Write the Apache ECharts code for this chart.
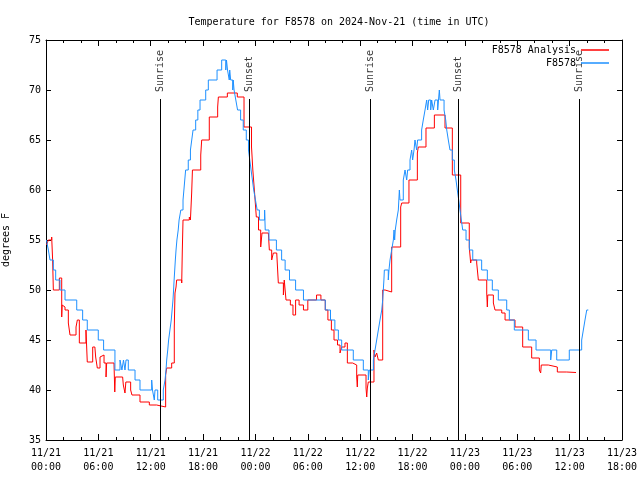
<!DOCTYPE html>
<html>
<head>
<meta charset="utf-8">
<script src="https://cdn.jsdelivr.net/npm/echarts@6/dist/echarts.min.js"></script>
<style>html,body{margin:0;padding:0;background:#fff}#c{width:640px;height:480px}</style>
</head>
<body>
<div id="c"></div>
<script>
// Hours since 2024-11-21 00:00 UTC
const titleText = 'Temperature for F8578 on 2024-Nov-21 (time in UTC)';
const yTicks = [35, 40, 45, 50, 55, 60, 65, 70, 75];
const xTickHours = [0, 6, 12, 18, 24, 30, 36, 42, 48, 54, 60, 66];

const sunHours = [13.14, 23.3, 37.16, 47.25, 61.1];
const sunLabels = ['Sunrise', 'Sunset', 'Sunrise', 'Sunset', 'Sunrise'];

const obsHours = [0.05,0.27,0.46,0.84,1.11,1.6,2.18,3.52,4.2,4.73,5.99,6.6,7.9,8.48,8.7,8.88,9.05,9.17,9.43,10.2,10.77,
  12.11,12.2,12.41,12.49,12.8,13.44,13.64,13.75,13.83,13.95,14.05,14.2,14.35,14.45,14.55,14.62,14.68,14.75,14.82,14.9,15.0,
  15.15,15.25,15.45,15.7,15.8,15.9,16.0,16.3,16.55,16.7,16.85,17.15,17.4,17.65,18.3,18.6,19.6,20.13,20.6,20.68,20.8,21.0,
  21.05,21.16,21.4,21.45,21.55,21.75,21.95,22.3,22.6,22.95,23.2,23.35,23.5,23.65,23.8,24.0,24.2,24.45,25.05,25.12,25.55,
  26.4,27.0,27.4,27.9,28.6,29.5,32.0,32.6,33.1,33.5,33.88,35.21,36.36,36.93,37.05,37.51,37.7,37.89,38.08,38.27,38.47,
  38.58,38.65,38.72,38.77,39.22,39.3,39.42,39.61,39.8,39.88,39.95,40.02,40.18,40.37,40.49,40.56,40.94,41.14,41.33,41.44,
  41.71,41.9,42.01,42.17,42.28,42.47,42.58,43.04,43.23,43.43,43.62,43.73,43.85,44.08,44.19,44.38,44.58,44.88,45.07,45.15,
  45.61,45.8,45.92,46.1,46.29,46.56,46.79,46.98,47.13,47.29,47.44,47.59,47.75,48.13,48.51,48.9,49.92,50.57,51.14,51.83,
  52.79,53.09,53.66,55.27,56.15,57.83,57.95,58.52,59.96,61.38,61.57,61.76,61.96,62.14];
const obsTemps = [55,54,53,52,51,50,49,48,47,46,45,44,42,43,42,43,42,43,42,41,40,
  41,40,39,40,39,40,41,42,43,44,45,46,47,48,49,50,51,52,53,54,55,
  56,57,58,59,60,61,62,63,64,65,66,67,68,69,70,71,72,73,72,73,72,71,
  72,71,70,71,70,69,68,67,66,65,64,63,62,61,60,59,58,57,58,56,55,
  54,53,52,51,50,49,48,47,46,45,44,43,42,41,42,43,44,45,46,47,48,
  49,50,51,52,51,52,53,54,55,56,55,56,57,58,60,59,61,62,61,62,
  63,64,63,64,65,64,65,66,67,68,69,68,69,68,69,68,69,68,70,69,
  68,67,66,65,64,63,62,61,60,59,58,57,56,55,54,53,52,51,50,49,
  48,47,46,45,44,43,44,43,44,45,46,47,48,48];

const anaHours = [0.05,0.27,0.65,0.76,0.84,1.53,1.8,1.85,1.91,2.18,2.56,2.75,3.44,3.59,3.82,4.58,4.73,5.35,5.6,5.69,5.88,
  6.19,6.38,6.65,6.88,6.95,7.79,7.88,7.94,8.78,8.86,9.05,9.15,9.7,9.85,10.77,11.84,12.68,13.71,13.83,14.4,14.7,14.78,14.9,
  14.97,15.55,15.62,15.7,16.42,16.55,16.69,16.78,17.73,17.84,18.71,19.67,19.75,20.78,21.92,22.69,23.55,23.7,23.9,24.1,
  24.35,24.6,24.75,25.48,25.59,25.86,26.05,26.44,26.62,27.2,27.3,27.5,28.0,28.3,28.6,29.0,29.5,30.0,31.0,31.5,32.0,32.3,
  32.7,33.0,33.4,33.69,33.88,34.26,34.53,35.14,35.6,35.67,35.72,36.67,36.75,36.82,36.93,37.58,37.7,37.89,38.08,38.58,
  38.85,39.61,40.64,40.76,41.59,42.55,42.66,43.54,44.5,45.72,46.56,47.52,48.5,48.66,48.72,49.35,49.54,50.5,50.57,50.62,
  51.26,51.45,52.22,52.6,53.74,54.62,55.65,56.53,56.68,56.75,57.56,58.59,59.67,59.85,60.73];
const anaTemps = [54.5,55,55.3,53,50,51.2,47.3,48.5,48.3,48,46.7,45.5,46.3,47,44.7,46,42.8,44.3,44.5,43.3,42.2,
  43.3,43.5,42.7,41.3,42.7,42.6,39.8,41.3,41.3,40.5,39.7,40.8,40,39.5,38.8,38.5,38.3,41.5,42.2,42.7,46.3,49.7,50.3,
  51,50.7,54,57,57.3,57,59.7,62,63.5,65,67.3,68.3,69.3,69.7,69.3,66.3,64.3,62,59.7,57.3,
  56,54.3,55.7,55.7,54,53,53.7,53.5,50.7,49.5,51,49,48.5,47.5,49,48.5,48,49,49.5,49,48,47,
  46,45,44.5,43.7,44.3,44.7,42.7,42.5,41.3,40.3,41.5,40.2,39.3,40.2,40.8,44,43.3,43.7,43,50,
  49.8,54.3,58.3,58.7,61,63.7,64.3,66.2,67.5,66.2,61.5,56.7,54.3,52.7,53,52.7,51,49.7,48.3,49.5,
  48.7,48,47.7,47,46.3,44.3,43.2,42,41.7,42.5,42.3,41.8,41.7,41.75,41.75];

const FONT = 'DejaVu Sans Mono';
function pad(n){ return (n < 10 ? '0' : '') + n; }
function hourLabel(h){
  const day = 21 + Math.floor(h / 24);
  const hh = h % 24;
  return '11/' + day + '\n' + pad(hh) + ':00';
}
const zip = (a, b) => a.map((v, i) => [v, b[i]]);

const chart = echarts.init(document.getElementById('c'), null, {renderer: 'canvas'});
const axisCommon = {
  type: 'value', min: 0, max: 66, interval: 6,
  axisLine: {show: true, onZero: false, lineStyle: {color: '#000', width: 1}},
  axisTick: {show: true, inside: true, length: 6, lineStyle: {color: '#000'}},
  minorTick: {show: true, splitNumber: 3, length: 3, lineStyle: {color: '#000'}},
  splitLine: {show: false}, minorSplitLine: {show: false}
};
const yCommon = {
  type: 'value', min: yTicks[0], max: yTicks[yTicks.length - 1], interval: 5,
  axisLine: {show: true, onZero: false, lineStyle: {color: '#000', width: 1}},
  axisTick: {show: true, inside: true, length: 5, lineStyle: {color: '#000'}},
  splitLine: {show: false}
};
const legendCommon = {
  right: 31, align: 'right', icon: 'rect', itemWidth: 28, itemHeight: 1.5, itemGap: 0, padding: 0,
  textStyle: {fontFamily: FONT, fontSize: 10, color: '#000'}
};
chart.setOption({
  animation: false,
  backgroundColor: '#fff',
  title: {
    text: titleText, left: 334, top: 12, textAlign: 'center',
    textStyle: {fontFamily: FONT, fontSize: 10, fontWeight: 'normal', color: '#000'}
  },
  grid: {left: 46, right: 18, top: 40, bottom: 40, containLabel: false, outerBoundsMode: 'none'},
  legend: [
    Object.assign({data: ['F8578 Analysis'], top: 45}, legendCommon),
    Object.assign({data: ['F8578'], top: 58}, legendCommon)
  ],
  xAxis: [
    Object.assign({}, axisCommon, {position: 'bottom',
      axisLabel: {show: true, margin: 6, lineHeight: 14, fontFamily: FONT, fontSize: 10, color: '#000',
        formatter: v => hourLabel(v)}}),
    Object.assign({}, axisCommon, {position: 'top', axisLabel: {show: false}})
  ],
  yAxis: [
    Object.assign({}, yCommon, {position: 'left', name: 'degrees F', nameLocation: 'middle', nameGap: 35,
      nameTextStyle: {fontFamily: FONT, fontSize: 10, color: '#000'},
      axisLabel: {show: true, margin: 5, fontFamily: FONT, fontSize: 10, color: '#000'}}),
    Object.assign({}, yCommon, {position: 'right', axisLabel: {show: false}})
  ],
  series: [
    {
      name: 'sun', type: 'scatter', xAxisIndex: 0, yAxisIndex: 0, silent: true,
      symbolSize: 0, z: 1,
      data: sunHours.map((h, i) => ({value: [h, 69.1], name: sunLabels[i]})),
      label: {show: true, position: 'top', distance: 7, rotate: 90, align: 'left', verticalAlign: 'middle',
        formatter: p => p.name, fontFamily: FONT, fontSize: 10, color: '#000'},
      markLine: {
        silent: true, symbol: ['none', 'none'], animation: false,
        lineStyle: {color: '#000', width: 1, type: 'solid'}, label: {show: false},
        emphasis: {disabled: true},
        data: sunHours.map(h => [{coord: [h, 35]}, {coord: [h, 69.1]}])
      }
    },
    {
      name: 'F8578 Analysis', type: 'line', step: 'end', symbol: 'none', z: 3,
      data: zip(anaHours, anaTemps),
      lineStyle: {color: '#ff0000', width: 1}, itemStyle: {color: '#ff0000'}
    },
    {
      name: 'F8578', type: 'line', step: 'end', symbol: 'none', z: 4,
      data: zip(obsHours, obsTemps),
      lineStyle: {color: '#1e90ff', width: 1}, itemStyle: {color: '#1e90ff'}
    }
  ]
});
</script>
</body>
</html>
